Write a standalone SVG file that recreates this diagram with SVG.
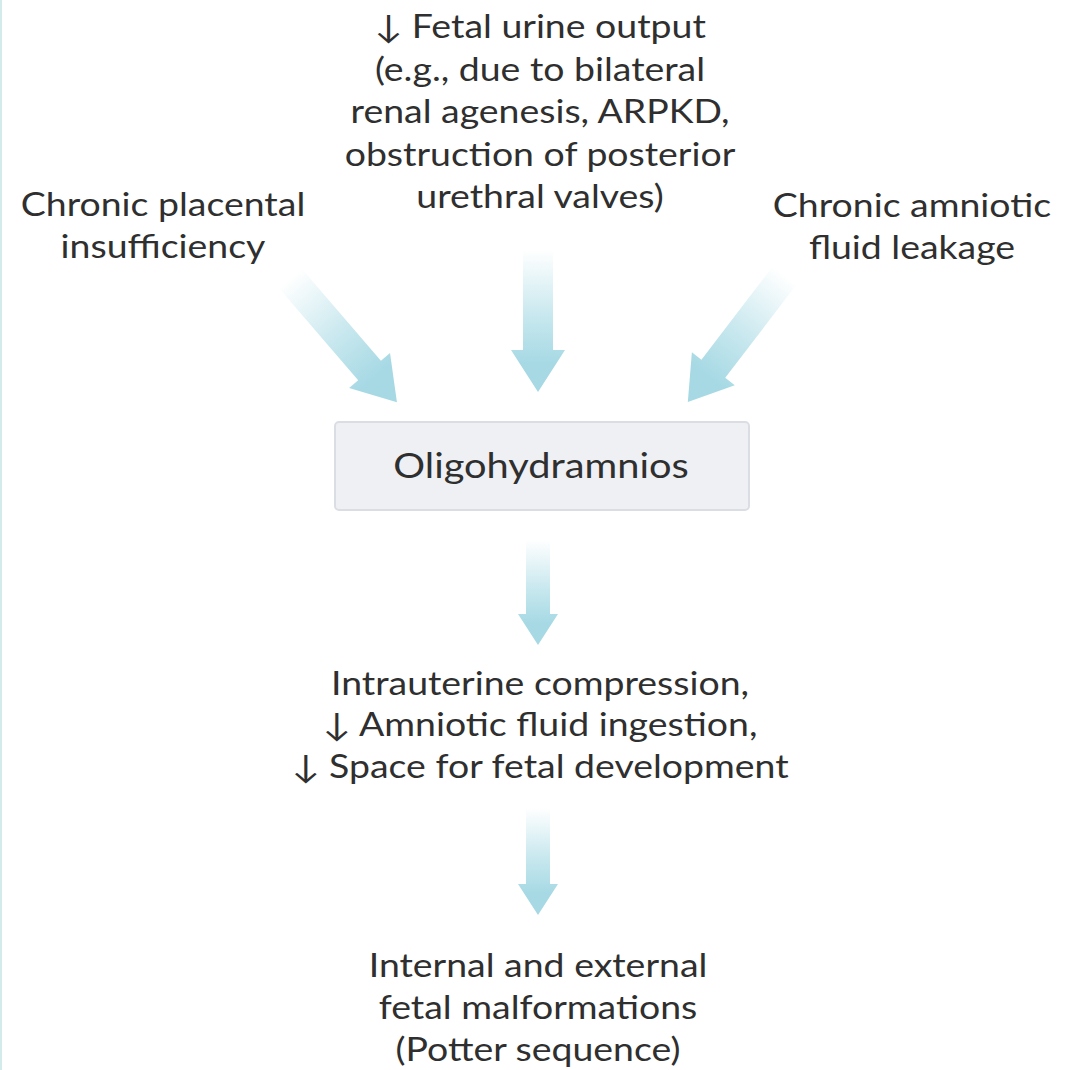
<svg xmlns="http://www.w3.org/2000/svg" width="1071" height="1070" viewBox="0 0 1071 1070">
  <defs>
    <style>
      .t { font-family: Lato, "Liberation Sans", sans-serif; font-size: 32px; fill: #2f2f2f; text-anchor: middle; }
      .big { font-size: 34px; }
      .box { fill: #eef0f4; stroke: #dadee4; stroke-width: 2; }
    </style>
    <linearGradient id="fade" x1="0" y1="0" x2="0" y2="1">
      <stop offset="0" stop-color="#a6d9e4" stop-opacity="0"/>
      <stop offset="0.45" stop-color="#a6d9e4" stop-opacity="0.6"/>
      <stop offset="0.8" stop-color="#a6d9e4" stop-opacity="1"/>
      <stop offset="1" stop-color="#a6d9e4" stop-opacity="1"/>
    </linearGradient>
  </defs>
  <rect width="1071" height="1070" fill="#ffffff"/>
  <line x1="1" y1="0" x2="1" y2="1070" stroke="#d3ebeb" stroke-width="2"/>

  <g id="connectors">
    <path fill="url(#fade)" transform="translate(290,278) rotate(-40.7)" d="M-15,0 L15,0 L15,122 L27,122 L0,164 L-27,122 L-15,122 Z"/>
    <path fill="url(#fade)" transform="translate(538,250)" d="M-15,0 L15,0 L15,100 L27,100 L0,142 L-27,100 L-15,100 Z"/>
    <path fill="url(#fade)" transform="translate(785,275) rotate(37.4)" d="M-15,0 L15,0 L15,118 L27,118 L0,160 L-27,118 L-15,118 Z"/>
    <path fill="url(#fade)" transform="translate(538,540)" d="M-12,0 L12,0 L12,74 L20,74 L0,105 L-20,74 L-12,74 Z"/>
    <path fill="url(#fade)" transform="translate(538,808)" d="M-12,0 L12,0 L12,76 L20,76 L0,107 L-20,76 L-12,76 Z"/>
  </g>

  <g id="node-urine" transform="translate(540,0) scale(1.17,1)">
    <text class="t" x="0" y="38">↓ Fetal urine output</text>
    <text class="t" x="0" y="81">(e.g., due to bilateral</text>
    <text class="t" x="0" y="123">renal agenesis, ARPKD,</text>
    <text class="t" x="0" y="166">obstruction of posterior</text>
    <text class="t" x="0" y="208">urethral valves)</text>
  </g>
  <g id="node-placental" transform="translate(163,0) scale(1.17,1)">
    <text class="t" x="0" y="216">Chronic placental</text>
    <text class="t" x="0" y="258">insufficiency</text>
  </g>
  <g id="node-leakage" transform="translate(912,0) scale(1.17,1)">
    <text class="t" x="0" y="217">Chronic amniotic</text>
    <text class="t" x="0" y="259">fluid leakage</text>
  </g>
  <g id="node-oligo">
    <rect class="box" x="335" y="422" width="414" height="88" rx="4"/>
    <text class="t big" x="0" y="478" transform="translate(541,0) scale(1.17,1)">Oligohydramnios</text>
  </g>
  <g id="node-compression" transform="translate(540,0) scale(1.17,1)">
    <text class="t" x="0" y="695">Intrauterine compression,</text>
    <text class="t" x="0" y="736">↓ Amniotic fluid ingestion,</text>
    <text class="t" x="0" y="778">↓ Space for fetal development</text>
  </g>
  <g id="node-malformations" transform="translate(538,0) scale(1.17,1)">
    <text class="t" x="0" y="977">Internal and external</text>
    <text class="t" x="0" y="1019">fetal malformations</text>
    <text class="t" x="0" y="1061">(Potter sequence)</text>
  </g>
</svg>
